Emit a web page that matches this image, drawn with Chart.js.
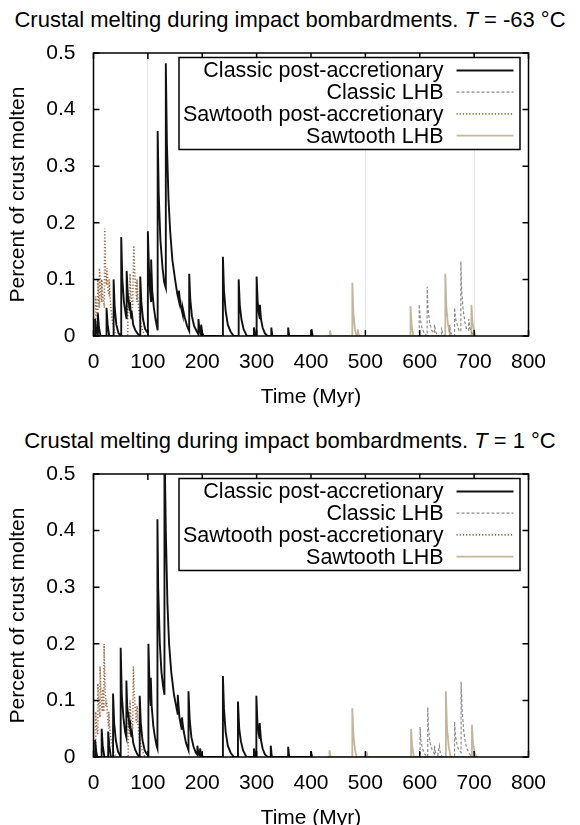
<!DOCTYPE html>
<html>
<head>
<meta charset="utf-8">
<script src="https://cdn.jsdelivr.net/npm/chart.js@4.4.1/dist/chart.umd.min.js"></script>
<style>
  html, body { margin: 0; padding: 0; background: #fff; overflow: hidden; width: 580px; height: 825px; }
  canvas { position: absolute; left: 0; }
  .ttl { position: absolute; left: 0; width: 580px; text-align: center; white-space: nowrap;
         font: 22px 'Liberation Sans', Arial, sans-serif; line-height: 26px; color: #000; }
</style>
</head>
<body>
<div class="ttl" style="top:7px">Crustal melting during impact bombardments. <i>T</i> = -63 °C</div>
<canvas id="top" width="580" height="410" style="top:0"></canvas>
<div class="ttl" style="top:428px">Crustal melting during impact bombardments. <i>T</i> = 1 °C</div>
<canvas id="bottom" width="580" height="410" style="top:421px"></canvas>
<script>
// axis ticks and names
const xTicks = [0, 100, 200, 300, 400, 500, 600, 700, 800];
const yTicks = [0, 0.1, 0.2, 0.3, 0.4, 0.5];
const seriesNames = ['Classic post-accretionary', 'Classic LHB', 'Sawtooth post-accretionary', 'Sawtooth LHB'];
const topGridLines = [100, 500, 700];   // faint lines showing on the upper panel

// ---- upper panel, T = -63 C  ([time Myr, percent molten]) ----
const topClassicPost = [[0,0],[3,0],[3,0.03],[5,0.01],[8,0],[8,0.04],[10,0.015],[13,0],[24,0],[24,0.05],[26,0.02],[29,0],
  [37,0],[37,0.1],[39,0.05],[42,0.02],[46,0.005],[51,0],[51,0.175],[53,0.1],[56,0.06],[59,0.04],[61,0.03],[61,0.115],
  [63,0.075],[64,0.06],[64,0.07],[66,0.05],[67,0.045],[67,0.06],[69,0.035],[70,0.03],[70,0.045],[73,0.02],[77,0.01],
  [82,0.003],[86,0],[86,0.105],[88,0.06],[91,0.03],[95,0.012],[100,0.005],[100,0.185],[102,0.12],[104,0.08],[106,0.06],
  [106,0.135],[108,0.08],[111,0.05],[114,0.03],[117,0.015],[118,0.01],[118,0.362],[120,0.25],[123,0.17],[127,0.12],
  [130,0.095],[133,0.085],[133,0.482],[135,0.34],[138,0.24],[141,0.185],[145,0.135],[150,0.1],[154,0.075],[157,0.062],
  [157,0.08],[160,0.055],[164,0.038],[164,0.05],[168,0.032],[172,0.018],[176,0.009],[176,0.11],[178,0.065],[181,0.035],
  [185,0.018],[190,0.008],[193,0.003],[193,0.03],[195,0.01],[198,0.002],[198,0.02],[200,0.005],[203,0],
  [238,0],[238,0.14],[240,0.08],[243,0.045],[247,0.02],[252,0.008],[258,0],[267,0],[267,0.1],[269,0.055],[272,0.03],
  [276,0.012],[282,0],[295,0],[295,0.015],[297,0.003],[300,0],[300,0.105],[302,0.06],[304,0.04],[306,0.03],[306,0.055],
  [308,0.03],[311,0.015],[315,0.005],[320,0],[327,0],[327,0.015],[329,0],[358,0],[358,0.015],[360,0],[401,0],[401,0.012],[403,0]];
const topClassicLHB = [[595,0],[599,0],[599,0.056],[601,0.03],[604,0.015],[608,0.005],[613.6,0],[613.6,0.087],[615,0.05],
  [618,0.025],[622,0.01],[627,0.005],[627,0.02],[629,0.008],[633,0],[640,0],[640,0.015],[642,0.005],[647,0],[655,0],
  [655,0.02],[657,0.005],[664,0],[664,0.05],[666,0.03],[669,0.02],[672,0.01],[675.6,0.008],[675.6,0.132],[677,0.08],
  [680,0.045],[683,0.025],[686,0.012],[690,0.01],[690,0.03],[692,0.015],[696,0.005],[700,0]];
const topSawPost = [[0,0],[4,0],[4,0.07],[6,0.04],[8,0.03],[8,0.1],[10,0.06],[11,0.05],[11,0.12],[13,0.08],[15,0.06],
  [15,0.1],[17,0.07],[20,0.05],[20.6,0.19],[22,0.12],[24,0.09],[25,0.12],[27,0.08],[29,0.07],[29,0.1],[31,0.06],
  [34,0.03],[38,0.01],[42,0],[63,0],[63,0.08],[65,0.05],[67,0.04],[67,0.11],[69,0.07],[72,0.05],[74,0.16],[76,0.11],
  [78,0.08],[80,0.06],[80,0.1],[82,0.06],[85,0.03],[90,0.01],[95,0]];
const topSawLHB = [[430,0],[435,0],[435,0.01],[437,0],[476,0],[476,0.094],[478,0.04],[481,0.01],[484,0],[486,0],
  [486,0.012],[488,0],[583,0],[583,0.053],[585,0.02],[588,0],[647,0],[647,0.11],[649,0.05],[652,0.02],[656,0],
  [695,0],[695,0.055],[697,0.025],[700,0.008],[703,0]];

// ---- lower panel, T = 1 C ----
const botClassicPost = [[0,0],[3,0],[3,0.03],[5,0.01],[7,0],[15,0],[15,0.05],[17,0.02],[20,0],[27,0],[27,0.045],[29,0.02],
  [32,0],[36,0],[36,0.112],[38,0.06],[41,0.03],[45,0.01],[50,0],[50,0.193],[52,0.11],[55,0.07],[58,0.045],[60.5,0.035],
  [60.5,0.135],[62,0.09],[64,0.07],[64,0.08],[66,0.055],[67,0.05],[67,0.065],[69,0.04],[70,0.035],[70,0.05],[73,0.025],
  [77,0.012],[81,0.004],[85,0],[85,0.108],[87,0.06],[90,0.03],[94,0.012],[98,0.005],[101,0.003],[101,0.2],[103,0.13],
  [105.4,0.09],[105.4,0.14],[107,0.09],[110,0.055],[113,0.035],[116,0.02],[117.6,0.015],[117.6,0.42],[119,0.3],
  [122,0.2],[125,0.15],[128,0.125],[130.5,0.11],[130.5,0.56],[133,0.4],[136,0.27],[139,0.2],[143,0.15],[148,0.11],
  [153,0.085],[155,0.075],[155,0.11],[158,0.07],[162,0.05],[162.5,0.07],[166,0.045],[170,0.025],[174.7,0.012],
  [174.7,0.116],[177,0.065],[180,0.035],[184,0.018],[188,0.008],[191,0.004],[191,0.02],[193,0.006],[196,0.002],
  [196,0.015],[198,0.004],[202,0],[238,0],[238,0.143],[240,0.085],[243,0.045],[247,0.02],[252,0.008],[258,0],
  [265.7,0],[265.7,0.098],[268,0.05],[271,0.028],[275,0.012],[281,0],[295,0],[295,0.015],[297,0.003],[299.5,0],
  [299.5,0.108],[301.5,0.06],[304,0.04],[305.6,0.032],[305.6,0.06],[308,0.03],[311,0.015],[315,0.005],[320,0],
  [326,0],[326,0.02],[328,0],[358,0],[358,0.018],[360,0],[400,0],[400,0.01],[402,0]];
const botClassicLHB = [[595,0],[600.6,0],[600.6,0.053],[602,0.03],[605,0.015],[609,0.005],[614.7,0],[614.7,0.088],
  [616,0.05],[619,0.025],[623,0.012],[627,0.006],[627,0.02],[629,0.008],[633,0.003],[636,0.02],[638,0.006],[642,0],
  [664,0],[664,0.0625],[666,0.035],[669,0.02],[672,0.012],[676,0.008],[676,0.133],[678,0.08],[681,0.045],[684,0.025],
  [687,0.014],[691,0.006],[696,0]];
const botSawPost = [[0,0],[4,0],[4,0.08],[6,0.05],[8,0.04],[8,0.13],[10,0.09],[12,0.07],[12,0.16],[14,0.11],[16,0.08],
  [17,0.12],[19,0.08],[19.5,0.2],[21,0.13],[23,0.09],[24,0.1],[26,0.07],[28,0.05],[28,0.08],[30,0.05],[33,0.025],
  [37,0.01],[41,0],[64,0],[64,0.07],[66,0.045],[67,0.04],[67,0.1],[69,0.065],[72,0.05],[73.4,0.16],[75,0.11],
  [77,0.08],[79,0.06],[80,0.09],[82,0.055],[85,0.03],[90,0.01],[95,0]];
const botSawLHB = [[430,0],[434,0],[434,0.012],[436,0],[476,0],[476,0.086],[478,0.04],[481,0.012],[484,0],[502,0],
  [502,0.01],[504,0],[584,0],[584,0.05],[586,0.02],[589,0],[648,0],[648,0.116],[650,0.055],[653,0.02],[657,0],
  [696,0],[696,0.057],[698,0.025],[701,0.008],[704,0]];

const lineStyles = [
  { color: '#111111', width: 1.9, dash: [] },
  { color: '#8a8a8a', width: 1.2, dash: [3, 2] },
  { color: '#9a6a45', width: 1.6, dash: [1.2, 2] },
  { color: '#c2b79c', width: 1.8, dash: [] }
];

Chart.defaults.font.family = "'Liberation Sans', Arial, sans-serif";
Chart.defaults.font.size = 21;
Chart.defaults.color = '#000';

// frame with inward ticks on all four sides + gnuplot style key
const frameAndKey = {
  id: 'frameAndKey',
  afterDatasetsDraw(chart) {
    const { ctx, chartArea: a, scales } = chart;
    ctx.save();
    ctx.strokeStyle = '#000';
    ctx.lineWidth = 1.5;
    ctx.setLineDash([]);
    ctx.strokeRect(a.left, a.top, a.right - a.left, a.bottom - a.top);
    ctx.beginPath();
    xTicks.forEach(v => {
      const px = scales.x.getPixelForValue(v);
      ctx.moveTo(px, a.bottom); ctx.lineTo(px, a.bottom - 6);
      ctx.moveTo(px, a.top); ctx.lineTo(px, a.top + 6);
    });
    yTicks.forEach(v => {
      const py = scales.y.getPixelForValue(v);
      ctx.moveTo(a.left, py); ctx.lineTo(a.left + 6, py);
      ctx.moveTo(a.right, py); ctx.lineTo(a.right - 6, py);
    });
    ctx.stroke();

    // key box
    const bx = a.left + 85.5, by = a.top + 4.5, bw = a.right - 8.5 - bx, bh = 92;
    ctx.fillStyle = '#fff';
    ctx.fillRect(bx, by, bw, bh);
    ctx.strokeRect(bx, by, bw, bh);
    ctx.font = "21.5px 'Liberation Sans', Arial, sans-serif";
    ctx.textAlign = 'right';
    ctx.textBaseline = 'middle';
    seriesNames.forEach((name, i) => {
      const cy = by + 13 + i * 21.7;
      ctx.fillStyle = '#000';
      ctx.fillText(name, a.right - 85, cy + 1);
      const st = lineStyles[i];
      ctx.strokeStyle = st.color;
      ctx.lineWidth = st.width;
      ctx.setLineDash(st.dash);
      ctx.beginPath();
      ctx.moveTo(a.right - 72, cy); ctx.lineTo(a.right - 15, cy);
      ctx.stroke();
    });
    ctx.restore();
  }
};

function makeChart(id, series, showGrid) {
  const datasets = series.map((pts, i) => ({
    label: seriesNames[i],
    data: pts.map(p => ({ x: p[0], y: p[1] })),
    borderColor: lineStyles[i].color,
    borderWidth: lineStyles[i].width,
    borderDash: lineStyles[i].dash,
    pointRadius: 0,
    tension: 0,
    fill: false
  }));
  return new Chart(document.getElementById(id), {
    type: 'line',
    data: { datasets },
    options: {
      responsive: false,
      animation: false,
      devicePixelRatio: 1,
      layout: { padding: { top: 53, right: 51.5, left: 0, bottom: 0 } },
      plugins: { legend: { display: false }, tooltip: { enabled: false }, title: { display: false } },
      scales: {
        x: {
          type: 'linear', min: 0, max: 800,
          afterBuildTicks: s => { s.ticks = xTicks.map(v => ({ value: v })); },
          afterFit: s => { s.height = 74; },
          ticks: { padding: 14, maxRotation: 0, autoSkip: false, callback: v => String(v) },
          grid: {
            display: showGrid, drawTicks: false,
            color: c => (topGridLines.includes(c.tick && c.tick.value) ? '#e4e4e4' : 'rgba(0,0,0,0)')
          },
          border: { display: false },
          title: { display: true, text: 'Time (Myr)', padding: 0 }
        },
        y: {
          type: 'linear', min: 0, max: 0.5,
          afterBuildTicks: s => { s.ticks = yTicks.map(v => ({ value: v })); },
          afterFit: s => { s.width = 93.5; },
          ticks: { padding: 18, callback: v => String(+v.toFixed(1)) },
          grid: { display: false, drawTicks: false },
          border: { display: false },
          title: { display: true, text: 'Percent of crust molten', padding: { top: 6, bottom: 0 } }
        }
      }
    },
    plugins: [frameAndKey]
  });
}

makeChart('top', [topClassicPost, topClassicLHB, topSawPost, topSawLHB], true);
makeChart('bottom', [botClassicPost, botClassicLHB, botSawPost, botSawLHB], false);
</script>
</body>
</html>
